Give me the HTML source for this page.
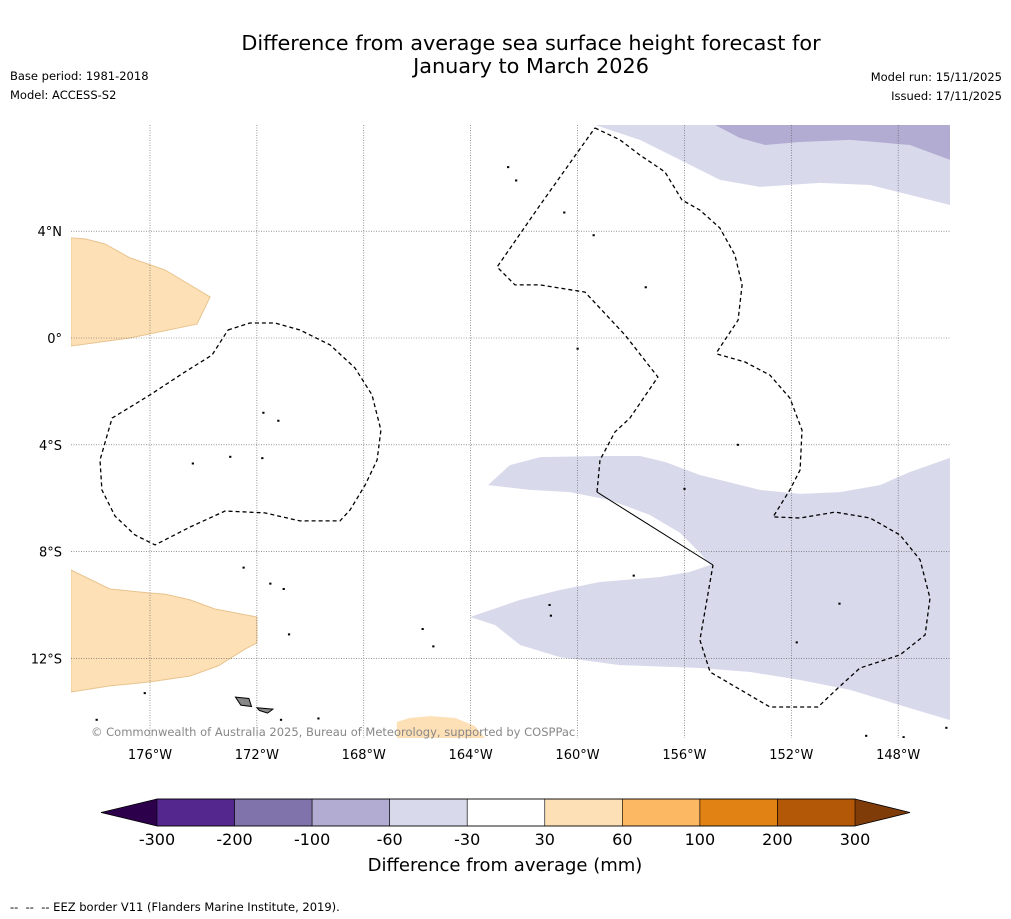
<!DOCTYPE html>
<html><head><meta charset="utf-8">
<style>
body{margin:0;background:#fff;font-family:"DejaVu Sans","Liberation Sans",sans-serif;}
#wrap{position:relative;width:1011px;height:919px;overflow:hidden;}
.t{position:absolute;color:#000;white-space:nowrap;}
text{font-family:"DejaVu Sans","Liberation Sans",sans-serif;}
</style></head>
<body>
<div id="wrap">
<div class="t" style="left:0;width:1062px;top:32px;text-align:center;font-size:20.8px;line-height:23px;">Difference from average sea surface height forecast for<br>January to March 2026</div>
<div class="t" style="left:10px;top:69px;font-size:11.5px;">Base period: 1981-2018</div>
<div class="t" style="left:10px;top:88px;font-size:11.5px;">Model: ACCESS-S2</div>
<div class="t" style="right:9px;top:70px;font-size:11.5px;">Model run: 15/11/2025</div>
<div class="t" style="right:9px;top:89px;font-size:11.5px;">Issued: 17/11/2025</div>
<svg id="svg" width="1011" height="919" style="position:absolute;left:0;top:0"></svg>
<div class="t" style="left:10px;top:900px;font-size:11.5px;">--&nbsp; --&nbsp; -- EEZ border V11 (Flanders Marine Institute, 2019).</div>
</div>
<script>
// ---- data ----
const lonTicks=[-176,-172,-168,-164,-160,-156,-152,-148];
const lonTickLabels=["176°W","172°W","168°W","164°W","160°W","156°W","152°W","148°W"];
const latTicks=[4,0,-4,-8,-12];
const latTickLabels=["4°N","0°","4°S","8°S","12°S"];
const cbBounds=[-300,-200,-100,-60,-30,30,60,100,200,300];
const cbColors=["#54278f","#8073ac","#b2abd2","#d8daeb","#ffffff","#fee0b6","#fdb863","#e08214","#b35806"];
const cbUnder="#2d004b", cbOver="#7f3b08";
const cbLabels=["-300","-200","-100","-60","-30","30","60","100","200","300"];
// filled anomaly regions [lon,lat]
const regionOrangeNW=[[-178.96,3.75],[-178.43,3.71],[-177.68,3.52],[-176.75,3.0],[-175.44,2.55],[-173.75,1.54],[-174.24,0.52],[-176.75,0],[-178.96,-0.3]];
const regionOrangeSW=[[-178.96,-8.69],[-177.5,-9.4],[-176,-9.55],[-175.44,-9.59],[-174.5,-9.81],[-173.57,-10.15],[-172.0,-10.45],[-172.0,-11.42],[-172.44,-11.65],[-173.45,-12.28],[-174.5,-12.66],[-176,-12.88],[-177.5,-13.03],[-178.96,-13.26]];
const regionOrangeS=[[-166.76,-14.38],[-166.27,-14.23],[-165.52,-14.16],[-164.59,-14.23],[-163.84,-14.53],[-163.46,-14.98],[-166.76,-14.98]];
const regionLightNE=[[-159.35,7.98],[-157.66,7.42],[-156.16,6.67],[-154.67,5.92],[-153.17,5.66],[-150.93,5.81],[-149.05,5.73],[-147.56,5.36],[-146.06,4.98],[-146.06,7.98]];
const regionMidNE=[[-154.86,7.98],[-153.92,7.49],[-152.98,7.23],[-151.67,7.34],[-149.8,7.42],[-147.56,7.23],[-146.06,6.67],[-146.06,7.98]];
const regionLightSE=[[-163.35,-5.51],[-162.53,-4.76],[-161.40,-4.46],[-159.16,-4.42],[-157.66,-4.42],[-156.73,-4.64],[-155.42,-5.13],[-153.17,-5.69],[-151.67,-5.84],[-150.18,-5.77],[-148.68,-5.51],[-147.56,-5.02],[-146.06,-4.49],[-146.06,-14.31],[-147.93,-13.75],[-149.8,-13.18],[-151.67,-12.81],[-153.54,-12.51],[-155.42,-12.36],[-158.41,-12.25],[-160.66,-11.95],[-162.15,-11.5],[-163.09,-10.75],[-164.02,-10.45],[-162.15,-9.81],[-160.66,-9.44],[-159.16,-9.14],[-156.91,-8.95],[-155.79,-8.76],[-155.04,-8.5],[-155.42,-8.05],[-156.16,-7.30],[-157.29,-6.63],[-158.78,-6.07],[-160.28,-5.77],[-161.78,-5.69]];
const eezWest=[[-173.08,0.30],[-172.26,0.56],[-171.32,0.56],[-170.39,0.30],[-169.26,-0.26],[-168.33,-1.12],[-167.69,-2.13],[-167.36,-3.45],[-167.50,-4.57],[-167.95,-5.51],[-168.51,-6.44],[-168.89,-6.85],[-170.39,-6.85],[-171.70,-6.55],[-173.19,-6.48],[-174.50,-7.08],[-175.81,-7.75],[-176.56,-7.38],[-177.31,-6.67],[-177.80,-5.69],[-177.87,-4.57],[-177.42,-3.0],[-176,-2.13],[-174.69,-1.27],[-173.68,-0.64],[-173.08,0.30]];
const eezEast=[[-159.35,7.87],[-158.41,7.42],[-157.66,6.85],[-156.73,6.22],[-156.09,5.17],[-155.42,4.79],[-154.67,4.12],[-154.11,3.11],[-153.84,1.99],[-153.99,0.67],[-154.78,-0.52],[-154.78,-0.6],[-153.73,-0.9],[-152.80,-1.39],[-152.05,-2.25],[-151.60,-3.45],[-151.67,-4.94],[-152.05,-5.69],[-152.68,-6.70],[-151.67,-6.74],[-150.36,-6.52],[-149.05,-6.74],[-147.93,-7.38],[-147.18,-8.31],[-146.81,-9.74],[-146.99,-11.12],[-147.93,-11.87],[-149.43,-12.36],[-150.25,-13.11],[-151.0,-13.82],[-152.80,-13.82],[-155.04,-12.51],[-155.42,-11.31],[-154.93,-8.50]];
const eezSolid=[[-154.93,-8.50],[-159.27,-5.77]];
const eezEast2=[[-159.27,-5.77],[-159.16,-4.57],[-158.6,-3.52],[-158.04,-3.0],[-156.99,-1.46],[-158.22,0.11],[-159.72,1.72],[-161.40,1.99],[-162.34,1.99],[-163.01,2.66],[-161.40,4.98],[-159.35,7.87]];
const islands=[[-171.76,-2.8],[-173.0,-4.45],[-174.4,-4.7],[-171.2,-3.1],[-171.8,-4.5],[-159.4,3.85],[-157.45,1.9],[-162.6,6.4],[-162.3,5.9],[-160.5,4.7],[-160.0,-0.4],[-154.0,-4.0],[-156.0,-5.65],[-157.9,-8.9],[-161.0,-10.4],[-161.05,-10.0],[-150.2,-9.95],[-151.8,-11.4],[-165.8,-10.9],[-165.4,-11.55],[-172.5,-8.6],[-171.5,-9.2],[-171.0,-9.4],[-170.8,-11.1],[-176.2,-13.3],[-178.0,-14.3],[-171.1,-14.3],[-169.7,-14.25],[-149.2,-14.9],[-147.8,-14.95],[-146.2,-14.6]];
const samoa=[[[-172.8,-13.45],[-172.3,-13.5],[-172.2,-13.8],[-172.6,-13.75]],[[-172.0,-13.85],[-171.4,-13.9],[-171.6,-14.05],[-171.9,-13.95]]];
// ---- axes ----
const X0=150,Y0=338,K=26.72,KY=26.7;
const px=lon=>X0+(lon+176)*K;
const py=lat=>Y0-lat*KY;
const mapL=71,mapR=950,mapT=125,mapB=738;
const svg=document.getElementById('svg');
const NS="http://www.w3.org/2000/svg";
function mk(tag,attrs){const e=document.createElementNS(NS,tag);for(const k in attrs)e.setAttribute(k,attrs[k]);svg.appendChild(e);return e;}
const defs=document.createElementNS(NS,'defs');
defs.innerHTML='<clipPath id="mc"><rect x="71" y="125" width="879" height="613"/></clipPath>';
svg.appendChild(defs);
const g=document.createElementNS(NS,'g');g.setAttribute('clip-path','url(#mc)');svg.appendChild(g);
function poly(pts,fill,stroke,name,dash,closed){
  const e=document.createElementNS(NS,closed===false?'polyline':'polygon');
  e.setAttribute('points',pts.map(p=>px(p[0]).toFixed(1)+','+py(p[1]).toFixed(1)).join(' '));
  e.setAttribute('fill',fill);
  if(stroke){e.setAttribute('stroke',stroke);e.setAttribute('stroke-width',dash?1.3:1);}
  if(dash)e.setAttribute('stroke-dasharray',dash);
  
  
  g.appendChild(e);return e;
}
poly(regionOrangeNW,cbColors[5],"#e8c48e","anomaly-region-orange-nw");
poly(regionOrangeSW,cbColors[5],"#e8c48e","anomaly-region-orange-sw");
poly(regionOrangeS,cbColors[5],null,"anomaly-region-orange-s");
poly(regionLightNE,cbColors[3],null,"anomaly-region-purple-ne");
poly(regionMidNE,cbColors[2],null,"anomaly-region-mid-purple-ne");
poly(regionLightSE,cbColors[3],null,"anomaly-region-purple-se");
// gridlines
lonTicks.forEach((lon,i)=>{
  const l=document.createElementNS(NS,'line');
  l.setAttribute('x1',px(lon));l.setAttribute('x2',px(lon));l.setAttribute('y1',mapT);l.setAttribute('y2',mapB);
  l.setAttribute('stroke','#555');l.setAttribute('stroke-width','0.6');l.setAttribute('stroke-dasharray','1,1.5');
  
  
  g.appendChild(l);
  const t=mk('text',{x:px(lon),y:759,'text-anchor':'middle','font-size':13});
  t.textContent=lonTickLabels[i];
  
  
});
latTicks.forEach((lat,i)=>{
  const l=document.createElementNS(NS,'line');
  l.setAttribute('x1',mapL);l.setAttribute('x2',mapR);l.setAttribute('y1',py(lat));l.setAttribute('y2',py(lat));
  l.setAttribute('stroke','#555');l.setAttribute('stroke-width','0.6');l.setAttribute('stroke-dasharray','1,1.5');
  
  
  g.appendChild(l);
  const t=mk('text',{x:62,y:py(lat)+5,'text-anchor':'end','font-size':13});
  t.textContent=latTickLabels[i];
  
  
});
// EEZ
poly(eezWest,'none','#000','eez-border-west','4,3',false);
poly(eezEast,'none','#000','eez-border-east','4,3',false);
poly(eezEast2,'none','#000','eez-border-east-north','4,3',false);
poly(eezSolid,'none','#000','eez-border-solid',null,false);
// islands
islands.forEach(p=>{
  const r=document.createElementNS(NS,'rect');
  r.setAttribute('x',px(p[0])-1);r.setAttribute('y',py(p[1])-1);r.setAttribute('width',2.2);r.setAttribute('height',2);r.setAttribute('fill','#000');
  
  
  g.appendChild(r);
});
samoa.forEach(s=>poly(s,'#888','#000','samoa-island'));
// copyright
const cp=mk('text',{x:91,y:736,'font-size':11.5,fill:'#888'});
cp.textContent="© Commonwealth of Australia 2025, Bureau of Meteorology, supported by COSPPac";


// ---- colorbar ----
const cbL=157,cbR=855,cbT=799,cbB=826;
const cw=(cbR-cbL)/cbColors.length;
const cx=i=>cbL+i*cw;
const under=mk('polygon',{points:`${cbL},${cbT} 101,${(cbT+cbB)/2} ${cbL},${cbB}`,fill:cbUnder});


const over=mk('polygon',{points:`${cbR},${cbT} 910,${(cbT+cbB)/2} ${cbR},${cbB}`,fill:cbOver});


cbColors.forEach((c,i)=>{
  const r=mk('rect',{x:cx(i),y:cbT,width:cw,height:cbB-cbT,fill:c,stroke:'#000','stroke-width':0.6});
  
  
});
const outline=mk('polygon',{points:`101,${(cbT+cbB)/2} ${cbL},${cbT} ${cbR},${cbT} 910,${(cbT+cbB)/2} ${cbR},${cbB} ${cbL},${cbB}`,fill:'none',stroke:'#000','stroke-width':0.8});


cbLabels.forEach((s,i)=>{
  const t=mk('text',{x:cx(i),y:845,'text-anchor':'middle','font-size':16});
  t.textContent=s;
  
  
});
const ct=mk('text',{x:505,y:871,'text-anchor':'middle','font-size':18});
ct.textContent="Difference from average (mm)";


</script>
</body></html>
